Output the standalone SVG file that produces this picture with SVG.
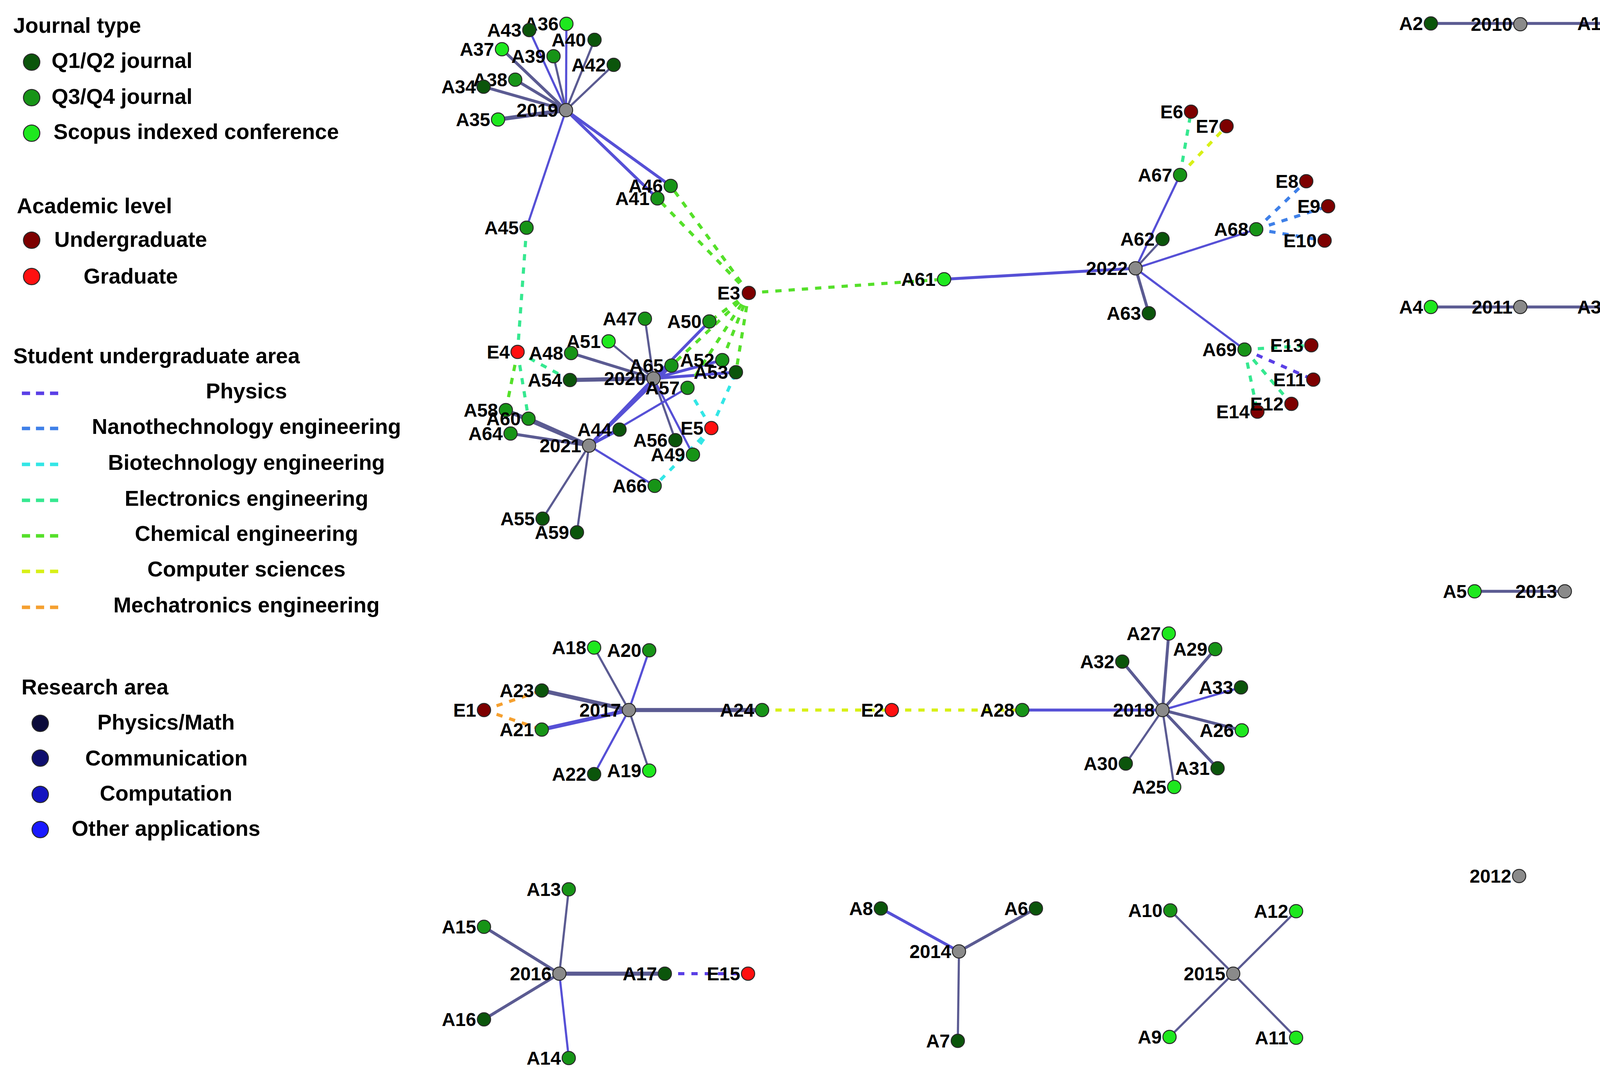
<svg xmlns="http://www.w3.org/2000/svg" width="4157" height="2755" viewBox="0 0 4157 2755">
<style>
text{font-family:"Liberation Sans",Arial,sans-serif;font-weight:bold;fill:#000}
.lg{font-size:55px}
.lc{text-anchor:middle}
.l{font-size:48px;text-anchor:end}
circle{stroke:#2a2a2a;stroke-width:2.5}
.q12{fill:#0b550b}.q34{fill:#179417}.sc{fill:#1ee81e}.ug{fill:#7d0000}.gr{fill:#ff1010}.yr{fill:#8a8a8a}
.ra1{fill:#0b0b3b}.ra2{fill:#0e0e6e}.ra3{fill:#1414c0}.ra4{fill:#1a1aff}
line{fill:none;stroke-linecap:butt}
.s{stroke:#5b5b92}.b{stroke:#5650d6}
.w4{stroke-width:5.5}.w6{stroke-width:7.5}.w9{stroke-width:10.5}
.d{stroke-width:8;stroke-dasharray:16 18}
.ld{stroke-width:9;stroke-dasharray:21 15}
.ph{stroke:#5a3fe6}.nano{stroke:#3f80e8}.bio{stroke:#33e6e6}.ele{stroke:#36e890}.chem{stroke:#55e02a}.cs{stroke:#d8f016}.mech{stroke:#f5a030}
</style>
<rect width="4157" height="2755" fill="#fff"/>

<g id="legend">
<text class="lg" x="34" y="84">Journal type</text>
<circle class="q12" cx="81" cy="159" r="21"/><text class="lg" x="132" y="174">Q1/Q2 journal</text>
<circle class="q34" cx="81" cy="250" r="21"/><text class="lg" x="132" y="266">Q3/Q4 journal</text>
<circle class="sc" cx="81" cy="341" r="21"/><text class="lg" x="137" y="356">Scopus indexed conference</text>
<text class="lg" x="43" y="546">Academic level</text>
<circle class="ug" cx="81" cy="615" r="21"/><text class="lg" x="139" y="632">Undergraduate</text>
<circle class="gr" cx="81" cy="708" r="21"/><text class="lg" x="214" y="726">Graduate</text>
<text class="lg" x="34" y="930">Student undergraduate area</text>
<line class="ld ph" x1="56" y1="1007" x2="149" y2="1007"/><text class="lg lc" x="631" y="1020">Physics</text>
<line class="ld nano" x1="56" y1="1097" x2="149" y2="1097"/><text class="lg lc" x="631" y="1111">Nanothechnology engineering</text>
<line class="ld bio" x1="56" y1="1189" x2="149" y2="1189"/><text class="lg lc" x="631" y="1203">Biotechnology engineering</text>
<line class="ld ele" x1="56" y1="1281" x2="149" y2="1281"/><text class="lg lc" x="631" y="1295">Electronics engineering</text>
<line class="ld chem" x1="56" y1="1372" x2="149" y2="1372"/><text class="lg lc" x="631" y="1385">Chemical engineering</text>
<line class="ld cs" x1="56" y1="1463" x2="149" y2="1463"/><text class="lg lc" x="631" y="1476">Computer sciences</text>
<line class="ld mech" x1="56" y1="1555" x2="149" y2="1555"/><text class="lg lc" x="631" y="1568">Mechatronics engineering</text>
<text class="lg" x="55" y="1778">Research area</text>
<circle class="ra1" cx="103" cy="1852" r="21"/><text class="lg lc" x="425" y="1868">Physics/Math</text>
<circle class="ra2" cx="103" cy="1941" r="21"/><text class="lg lc" x="426" y="1960">Communication</text>
<circle class="ra3" cx="103" cy="2034" r="21"/><text class="lg lc" x="425" y="2050">Computation</text>
<circle class="ra4" cx="103" cy="2124" r="21"/><text class="lg lc" x="425" y="2140">Other applications</text>
</g>

<g id="connectors">
<!-- 2019 -->
<line class="s w6" x1="1449" y1="282" x2="1238" y2="222"/>
<line class="s w6" x1="1449" y1="282" x2="1319" y2="204"/>
<line class="s w6" x1="1449" y1="282" x2="1285" y2="126"/>
<line class="b w4" x1="1449" y1="282" x2="1355" y2="77"/>
<line class="s w4" x1="1449" y1="282" x2="1417" y2="144"/>
<line class="b w4" x1="1449" y1="282" x2="1450" y2="61"/>
<line class="s w4" x1="1449" y1="282" x2="1522" y2="102"/>
<line class="s w4" x1="1449" y1="282" x2="1571" y2="166"/>
<line class="s w9" x1="1449" y1="282" x2="1275" y2="306"/>
<line class="b w6" x1="1449" y1="282" x2="1717" y2="476"/>
<line class="b w6" x1="1449" y1="282" x2="1683" y2="508"/>
<line class="b w4" x1="1449" y1="282" x2="1348" y2="583"/>
<!-- 2020 -->
<line class="s w4" x1="1673" y1="969" x2="1651" y2="816"/>
<line class="b w6" x1="1673" y1="969" x2="1816" y2="823"/>
<line class="s w4" x1="1673" y1="969" x2="1558" y2="874"/>
<line class="s w6" x1="1673" y1="969" x2="1462" y2="904"/>
<line class="s w9" x1="1673" y1="969" x2="1459" y2="973"/>
<line class="b w6" x1="1673" y1="969" x2="1719" y2="936"/>
<line class="b w6" x1="1673" y1="969" x2="1849" y2="922"/>
<line class="b w6" x1="1673" y1="969" x2="1884" y2="953"/>
<line class="s w4" x1="1673" y1="969" x2="1729" y2="1127"/>
<line class="b w4" x1="1673" y1="969" x2="1774" y2="1164"/>
<!-- 2021 -->
<line class="b w6" x1="1508" y1="1141" x2="1586" y2="1100"/>
<line class="b w6" x1="1508" y1="1141" x2="1719" y2="936"/>
<line class="b w6" x1="1508" y1="1141" x2="1673" y2="969"/>
<line class="b w4" x1="1508" y1="1141" x2="1760" y2="993"/>
<line class="s w9" x1="1508" y1="1141" x2="1295" y2="1050"/>
<line class="s w9" x1="1508" y1="1141" x2="1353" y2="1072"/>
<line class="s w6" x1="1508" y1="1141" x2="1307" y2="1110"/>
<line class="b w4" x1="1508" y1="1141" x2="1676" y2="1244"/>
<line class="s w4" x1="1508" y1="1141" x2="1389" y2="1328"/>
<line class="s w4" x1="1508" y1="1141" x2="1477" y2="1363"/>
<!-- 2022 -->
<line class="b w6" x1="2907" y1="687" x2="2417" y2="715"/>
<line class="b w4" x1="2907" y1="687" x2="3021" y2="448"/>
<line class="s w4" x1="2907" y1="687" x2="2976" y2="612"/>
<line class="b w4" x1="2907" y1="687" x2="3216" y2="587"/>
<line class="s w6" x1="2907" y1="687" x2="2941" y2="802"/>
<line class="b w4" x1="2907" y1="687" x2="3186" y2="895"/>
<!-- 2010, 2011, 2013 -->
<line class="s w6" x1="3663" y1="60" x2="4119" y2="60"/>
<line class="s w6" x1="3663" y1="786" x2="4119" y2="786"/>
<line class="s w6" x1="3775" y1="1514" x2="4006" y2="1514"/>
<!-- 2017 -->
<line class="s w4" x1="1610" y1="1818" x2="1521" y2="1658"/>
<line class="b w4" x1="1610" y1="1818" x2="1662" y2="1665"/>
<line class="s w9" x1="1610" y1="1818" x2="1387" y2="1768"/>
<line class="b w9" x1="1610" y1="1818" x2="1387" y2="1868"/>
<line class="b w4" x1="1610" y1="1818" x2="1521" y2="1982"/>
<line class="s w4" x1="1610" y1="1818" x2="1662" y2="1973"/>
<line class="s w9" x1="1610" y1="1818" x2="1951" y2="1818"/>
<!-- 2018 -->
<line class="b w6" x1="2976" y1="1818" x2="2617" y2="1818"/>
<line class="s w6" x1="2976" y1="1818" x2="2992" y2="1622"/>
<line class="s w6" x1="2976" y1="1818" x2="3111" y2="1662"/>
<line class="s w6" x1="2976" y1="1818" x2="2873" y2="1694"/>
<line class="b w4" x1="2976" y1="1818" x2="3177" y2="1760"/>
<line class="s w6" x1="2976" y1="1818" x2="3179" y2="1870"/>
<line class="s w4" x1="2976" y1="1818" x2="2882" y2="1955"/>
<line class="s w6" x1="2976" y1="1818" x2="3117" y2="1967"/>
<line class="s w4" x1="2976" y1="1818" x2="3006" y2="2015"/>
<!-- 2016 -->
<line class="s w4" x1="1432" y1="2493" x2="1456" y2="2277"/>
<line class="s w6" x1="1432" y1="2493" x2="1239" y2="2373"/>
<line class="s w6" x1="1432" y1="2493" x2="1239" y2="2610"/>
<line class="b w4" x1="1432" y1="2493" x2="1456" y2="2709"/>
<line class="s w9" x1="1432" y1="2493" x2="1702" y2="2493"/>
<!-- 2014, 2015 -->
<line class="b w6" x1="2455" y1="2436" x2="2255" y2="2326"/>
<line class="s w6" x1="2455" y1="2436" x2="2652" y2="2326"/>
<line class="s w4" x1="2455" y1="2436" x2="2452" y2="2665"/>
<line class="s w4" x1="3157" y1="2493" x2="2996" y2="2331"/>
<line class="s w4" x1="3157" y1="2493" x2="3318" y2="2333"/>
<line class="s w4" x1="3157" y1="2493" x2="2994" y2="2655"/>
<line class="s w4" x1="3157" y1="2493" x2="3318" y2="2657"/>
<!-- dashed: student areas -->
<line class="d ele" x1="1348" y1="583" x2="1325" y2="901"/>
<line class="d chem" x1="1325" y1="901" x2="1295" y2="1050"/>
<line class="d ele" x1="1325" y1="901" x2="1353" y2="1072"/>
<line class="d ele" x1="1325" y1="901" x2="1459" y2="973"/>
<line class="d chem" x1="1917" y1="750" x2="1717" y2="476"/>
<line class="d chem" x1="1917" y1="750" x2="1683" y2="508"/>
<line class="d chem" x1="1917" y1="750" x2="2417" y2="715"/>
<line class="d chem" x1="1917" y1="750" x2="1816" y2="823"/>
<line class="d chem" x1="1917" y1="750" x2="1719" y2="936"/>
<line class="d chem" x1="1917" y1="750" x2="1849" y2="922"/>
<line class="d chem" x1="1917" y1="750" x2="1884" y2="953"/>
<line class="d chem" x1="1917" y1="750" x2="1760" y2="993"/>
<line class="d bio" x1="1821" y1="1096" x2="1884" y2="953"/>
<line class="d bio" x1="1821" y1="1096" x2="1760" y2="993"/>
<line class="d bio" x1="1821" y1="1096" x2="1774" y2="1164"/>
<line class="d bio" x1="1821" y1="1096" x2="1676" y2="1244"/>
<line class="d ele" x1="3021" y1="448" x2="3049" y2="286"/>
<line class="d cs" x1="3021" y1="448" x2="3140" y2="323"/>
<line class="d nano" x1="3216" y1="587" x2="3344" y2="464"/>
<line class="d nano" x1="3216" y1="587" x2="3400" y2="528"/>
<line class="d nano" x1="3216" y1="587" x2="3391" y2="616"/>
<line class="d ele" x1="3186" y1="895" x2="3357" y2="884"/>
<line class="d ph" x1="3186" y1="895" x2="3362" y2="972"/>
<line class="d ele" x1="3186" y1="895" x2="3306" y2="1034"/>
<line class="d ele" x1="3186" y1="895" x2="3219" y2="1054"/>
<line class="d mech" x1="1239" y1="1818" x2="1387" y2="1768"/>
<line class="d mech" x1="1239" y1="1818" x2="1387" y2="1868"/>
<line class="d cs" x1="1951" y1="1818" x2="2283" y2="1818"/>
<line class="d cs" x1="2283" y1="1818" x2="2617" y2="1818"/>
<line class="d ph" x1="1702" y1="2493" x2="1915" y2="2493"/>
</g>

<g id="nodes">
<g id="n2019"><circle class="yr" cx="1449" cy="282" r="17"/><text class="l" x="1429" y="299">2019</text></g>
<g id="nA36"><circle class="sc" cx="1450" cy="61" r="17"/><text class="l" x="1430" y="78">A36</text></g>
<g id="nA43"><circle class="q12" cx="1355" cy="77" r="17"/><text class="l" x="1335" y="94">A43</text></g>
<g id="nA40"><circle class="q12" cx="1522" cy="102" r="17"/><text class="l" x="1500" y="119">A40</text></g>
<g id="nA37"><circle class="sc" cx="1285" cy="126" r="17"/><text class="l" x="1265" y="143">A37</text></g>
<g id="nA39"><circle class="q34" cx="1417" cy="144" r="17"/><text class="l" x="1397" y="161">A39</text></g>
<g id="nA42"><circle class="q12" cx="1571" cy="166" r="17"/><text class="l" x="1551" y="183">A42</text></g>
<g id="nA38"><circle class="q34" cx="1319" cy="204" r="17"/><text class="l" x="1299" y="221">A38</text></g>
<g id="nA34"><circle class="q12" cx="1238" cy="222" r="17"/><text class="l" x="1218" y="239">A34</text></g>
<g id="nA35"><circle class="sc" cx="1275" cy="306" r="17"/><text class="l" x="1255" y="323">A35</text></g>
<g id="nA46"><circle class="q34" cx="1717" cy="476" r="17"/><text class="l" x="1697" y="493">A46</text></g>
<g id="nA41"><circle class="q34" cx="1683" cy="508" r="17"/><text class="l" x="1663" y="525">A41</text></g>
<g id="nA45"><circle class="q34" cx="1348" cy="583" r="17"/><text class="l" x="1328" y="600">A45</text></g>

<g id="nE3"><circle class="ug" cx="1917" cy="750" r="17"/><text class="l" x="1895" y="767">E3</text></g>
<g id="nA61"><circle class="sc" cx="2417" cy="715" r="17"/><text class="l" x="2395" y="732">A61</text></g>
<g id="nA47"><circle class="q34" cx="1651" cy="816" r="17"/><text class="l" x="1631" y="833">A47</text></g>
<g id="nA50"><circle class="q34" cx="1816" cy="823" r="17"/><text class="l" x="1796" y="840">A50</text></g>
<g id="nA51"><circle class="sc" cx="1558" cy="874" r="17"/><text class="l" x="1538" y="891">A51</text></g>
<g id="nE4"><circle class="gr" cx="1325" cy="901" r="17"/><text class="l" x="1305" y="918">E4</text></g>
<g id="nA48"><circle class="q34" cx="1462" cy="904" r="17"/><text class="l" x="1442" y="921">A48</text></g>
<g id="nA65"><circle class="q34" cx="1719" cy="936" r="17"/><text class="l" x="1699" y="953">A65</text></g>
<g id="nA52"><circle class="q34" cx="1849" cy="922" r="17"/><text class="l" x="1829" y="939">A52</text></g>
<g id="nA53"><circle class="q12" cx="1884" cy="953" r="17"/><text class="l" x="1864" y="970">A53</text></g>
<g id="nA54"><circle class="q12" cx="1459" cy="973" r="17"/><text class="l" x="1439" y="990">A54</text></g>
<g id="n2020"><circle class="yr" cx="1673" cy="969" r="17"/><text class="l" x="1653" y="986">2020</text></g>
<g id="nA57"><circle class="q34" cx="1760" cy="993" r="17"/><text class="l" x="1740" y="1010">A57</text></g>
<g id="nA58"><circle class="q34" cx="1295" cy="1050" r="17"/><text class="l" x="1275" y="1067">A58</text></g>
<g id="nA60"><circle class="q34" cx="1353" cy="1072" r="17"/><text class="l" x="1333" y="1089">A60</text></g>
<g id="nA44"><circle class="q12" cx="1586" cy="1100" r="17"/><text class="l" x="1566" y="1117">A44</text></g>
<g id="nE5"><circle class="gr" cx="1821" cy="1096" r="17"/><text class="l" x="1801" y="1113">E5</text></g>
<g id="nA64"><circle class="q34" cx="1307" cy="1110" r="17"/><text class="l" x="1287" y="1127">A64</text></g>
<g id="n2021"><circle class="yr" cx="1508" cy="1141" r="17"/><text class="l" x="1488" y="1158">2021</text></g>
<g id="nA56"><circle class="q12" cx="1729" cy="1127" r="17"/><text class="l" x="1709" y="1144">A56</text></g>
<g id="nA49"><circle class="q34" cx="1774" cy="1164" r="17"/><text class="l" x="1754" y="1181">A49</text></g>
<g id="nA66"><circle class="q34" cx="1676" cy="1244" r="17"/><text class="l" x="1656" y="1261">A66</text></g>
<g id="nA55"><circle class="q12" cx="1389" cy="1328" r="17"/><text class="l" x="1369" y="1345">A55</text></g>
<g id="nA59"><circle class="q12" cx="1477" cy="1363" r="17"/><text class="l" x="1457" y="1380">A59</text></g>

<g id="n2022"><circle class="yr" cx="2907" cy="687" r="17"/><text class="l" x="2887" y="704">2022</text></g>
<g id="nA67"><circle class="q34" cx="3021" cy="448" r="17"/><text class="l" x="3001" y="465">A67</text></g>
<g id="nE6"><circle class="ug" cx="3049" cy="286" r="17"/><text class="l" x="3029" y="303">E6</text></g>
<g id="nE7"><circle class="ug" cx="3140" cy="323" r="17"/><text class="l" x="3120" y="340">E7</text></g>
<g id="nA62"><circle class="q12" cx="2976" cy="612" r="17"/><text class="l" x="2956" y="629">A62</text></g>
<g id="nA68"><circle class="q34" cx="3216" cy="587" r="17"/><text class="l" x="3196" y="604">A68</text></g>
<g id="nE8"><circle class="ug" cx="3344" cy="464" r="17"/><text class="l" x="3324" y="481">E8</text></g>
<g id="nE9"><circle class="ug" cx="3400" cy="528" r="17"/><text class="l" x="3380" y="545">E9</text></g>
<g id="nE10"><circle class="ug" cx="3391" cy="616" r="17"/><text class="l" x="3371" y="633">E10</text></g>
<g id="nA63"><circle class="q12" cx="2941" cy="802" r="17"/><text class="l" x="2921" y="819">A63</text></g>
<g id="nA69"><circle class="q34" cx="3186" cy="895" r="17"/><text class="l" x="3166" y="912">A69</text></g>
<g id="nE13"><circle class="ug" cx="3357" cy="884" r="17"/><text class="l" x="3337" y="901">E13</text></g>
<g id="nE11"><circle class="ug" cx="3362" cy="972" r="17"/><text class="l" x="3342" y="989">E11</text></g>
<g id="nE14"><circle class="ug" cx="3219" cy="1054" r="17"/><text class="l" x="3199" y="1071">E14</text></g>
<g id="nE12"><circle class="ug" cx="3306" cy="1034" r="17"/><text class="l" x="3286" y="1051">E12</text></g>

<g id="n2010"><circle class="yr" cx="3892" cy="62" r="17"/><text class="l" x="3872" y="79">2010</text></g>
<g id="nA2"><circle class="q12" cx="3663" cy="60" r="17"/><text class="l" x="3643" y="77">A2</text></g>
<g id="nA1"><circle class="q34" cx="4119" cy="60" r="17"/><text class="l" x="4099" y="77">A1</text></g>
<g id="n2011"><circle class="yr" cx="3892" cy="786" r="17"/><text class="l" x="3872" y="803">2011</text></g>
<g id="nA4"><circle class="sc" cx="3663" cy="786" r="17"/><text class="l" x="3643" y="803">A4</text></g>
<g id="nA3"><circle class="sc" cx="4119" cy="786" r="17"/><text class="l" x="4099" y="803">A3</text></g>
<g id="n2013"><circle class="yr" cx="4006" cy="1514" r="17"/><text class="l" x="3986" y="1531">2013</text></g>
<g id="nA5"><circle class="sc" cx="3775" cy="1514" r="17"/><text class="l" x="3755" y="1531">A5</text></g>
<g id="n2012"><circle class="yr" cx="3889" cy="2243" r="17"/><text class="l" x="3869" y="2260">2012</text></g>

<g id="n2017"><circle class="yr" cx="1610" cy="1818" r="17"/><text class="l" x="1590" y="1835">2017</text></g>
<g id="nA18"><circle class="sc" cx="1521" cy="1658" r="17"/><text class="l" x="1501" y="1675">A18</text></g>
<g id="nA20"><circle class="q34" cx="1662" cy="1665" r="17"/><text class="l" x="1642" y="1682">A20</text></g>
<g id="nA23"><circle class="q12" cx="1387" cy="1768" r="17"/><text class="l" x="1367" y="1785">A23</text></g>
<g id="nE1"><circle class="ug" cx="1239" cy="1818" r="17"/><text class="l" x="1219" y="1835">E1</text></g>
<g id="nA21"><circle class="q34" cx="1387" cy="1868" r="17"/><text class="l" x="1367" y="1885">A21</text></g>
<g id="nA22"><circle class="q12" cx="1521" cy="1982" r="17"/><text class="l" x="1501" y="1999">A22</text></g>
<g id="nA19"><circle class="sc" cx="1662" cy="1973" r="17"/><text class="l" x="1642" y="1990">A19</text></g>
<g id="nA24"><circle class="q34" cx="1951" cy="1818" r="17"/><text class="l" x="1931" y="1835">A24</text></g>
<g id="nE2"><circle class="gr" cx="2283" cy="1818" r="17"/><text class="l" x="2263" y="1835">E2</text></g>
<g id="nA28"><circle class="q34" cx="2617" cy="1818" r="17"/><text class="l" x="2597" y="1835">A28</text></g>
<g id="n2018"><circle class="yr" cx="2976" cy="1818" r="17"/><text class="l" x="2956" y="1835">2018</text></g>
<g id="nA27"><circle class="sc" cx="2992" cy="1622" r="17"/><text class="l" x="2972" y="1639">A27</text></g>
<g id="nA29"><circle class="q34" cx="3111" cy="1662" r="17"/><text class="l" x="3091" y="1679">A29</text></g>
<g id="nA32"><circle class="q12" cx="2873" cy="1694" r="17"/><text class="l" x="2853" y="1711">A32</text></g>
<g id="nA33"><circle class="q12" cx="3177" cy="1760" r="17"/><text class="l" x="3157" y="1777">A33</text></g>
<g id="nA26"><circle class="sc" cx="3179" cy="1870" r="17"/><text class="l" x="3159" y="1887">A26</text></g>
<g id="nA30"><circle class="q12" cx="2882" cy="1955" r="17"/><text class="l" x="2862" y="1972">A30</text></g>
<g id="nA31"><circle class="q12" cx="3117" cy="1967" r="17"/><text class="l" x="3097" y="1984">A31</text></g>
<g id="nA25"><circle class="sc" cx="3006" cy="2015" r="17"/><text class="l" x="2986" y="2032">A25</text></g>

<g id="n2016"><circle class="yr" cx="1432" cy="2493" r="17"/><text class="l" x="1412" y="2510">2016</text></g>
<g id="nA13"><circle class="q34" cx="1456" cy="2277" r="17"/><text class="l" x="1436" y="2294">A13</text></g>
<g id="nA15"><circle class="q34" cx="1239" cy="2373" r="17"/><text class="l" x="1219" y="2390">A15</text></g>
<g id="nA16"><circle class="q12" cx="1239" cy="2610" r="17"/><text class="l" x="1219" y="2627">A16</text></g>
<g id="nA14"><circle class="q34" cx="1456" cy="2709" r="17"/><text class="l" x="1436" y="2726">A14</text></g>
<g id="nA17"><circle class="q12" cx="1702" cy="2493" r="17"/><text class="l" x="1682" y="2510">A17</text></g>
<g id="nE15"><circle class="gr" cx="1915" cy="2493" r="17"/><text class="l" x="1895" y="2510">E15</text></g>

<g id="n2014"><circle class="yr" cx="2455" cy="2436" r="17"/><text class="l" x="2435" y="2453">2014</text></g>
<g id="nA8"><circle class="q12" cx="2255" cy="2326" r="17"/><text class="l" x="2235" y="2343">A8</text></g>
<g id="nA6"><circle class="q12" cx="2652" cy="2326" r="17"/><text class="l" x="2632" y="2343">A6</text></g>
<g id="nA7"><circle class="q12" cx="2452" cy="2665" r="17"/><text class="l" x="2432" y="2682">A7</text></g>
<g id="n2015"><circle class="yr" cx="3157" cy="2493" r="17"/><text class="l" x="3137" y="2510">2015</text></g>
<g id="nA10"><circle class="q34" cx="2996" cy="2331" r="17"/><text class="l" x="2976" y="2348">A10</text></g>
<g id="nA12"><circle class="sc" cx="3318" cy="2333" r="17"/><text class="l" x="3298" y="2350">A12</text></g>
<g id="nA9"><circle class="sc" cx="2994" cy="2655" r="17"/><text class="l" x="2974" y="2672">A9</text></g>
<g id="nA11"><circle class="sc" cx="3318" cy="2657" r="17"/><text class="l" x="3298" y="2674">A11</text></g>
</g>
</svg>
